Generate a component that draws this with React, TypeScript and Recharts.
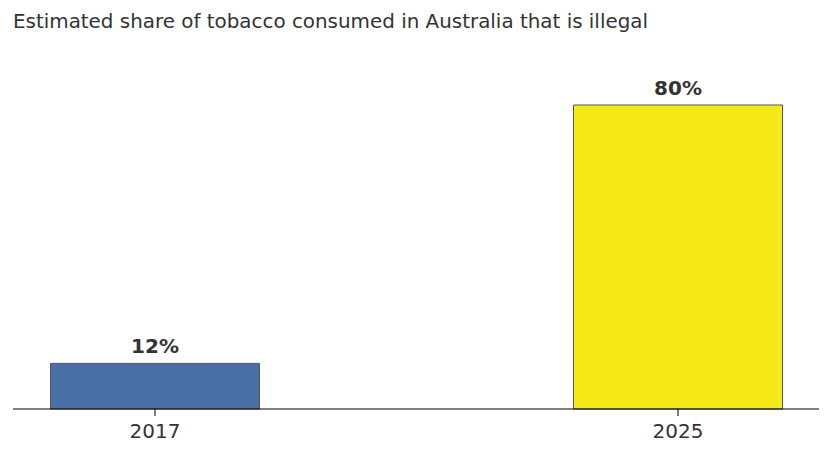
import React from "react";
import { BarChart, Bar, XAxis, YAxis, Cell, LabelList } from "recharts";

const years = ["2017", "2025"];
const shares = [12, 80];
const colors = ["#4a6fa6", "#f5e918"];

const data = years.map((y, i) => ({ year: y, share: shares[i] }));

export default function App() {
  return (
    <div style={{ position: "absolute", left: 0, top: 0, width: 833, height: 456, background: "#fff", fontFamily: "'DejaVu Sans', sans-serif" }}>
      <div style={{ position: "absolute", left: 13, top: 10, fontSize: 19.9, color: "#333", lineHeight: "24px", whiteSpace: "nowrap" }}>
        Estimated share of tobacco consumed in Australia that is illegal
      </div>
      <BarChart
        width={833}
        height={456}
        data={data}
        margin={{ top: 105, right: 14, bottom: 7, left: 13 }}
        style={{ position: "absolute", left: 0, top: 0 }}
      >
        <XAxis
          dataKey="year"
          scale="point"
          padding={{ left: 142, right: 141 }}
          height={40}
          axisLine={{ stroke: "#000", strokeWidth: 1.2 }}
          tickLine={{ stroke: "#000" }}
          tickSize={7}
          tickMargin={8}
          tick={{ fontSize: 20, fill: "#333", fontFamily: "'DejaVu Sans', sans-serif" }}
        />
        <YAxis hide domain={[0, 80]} />
        <Bar dataKey="share" barSize={209} stroke="#555" strokeWidth={1} isAnimationActive={false}>
          {data.map((d, i) => (
            <Cell key={d.year} fill={colors[i]} />
          ))}
          <LabelList
            dataKey="share"
            position="top"
            offset={10}
            formatter={(v: number) => `${v}%`}
            style={{ fontSize: 20, fontWeight: "bold", fill: "#333", fontFamily: "'DejaVu Sans', sans-serif" }}
          />
        </Bar>
      </BarChart>
    </div>
  );
}
